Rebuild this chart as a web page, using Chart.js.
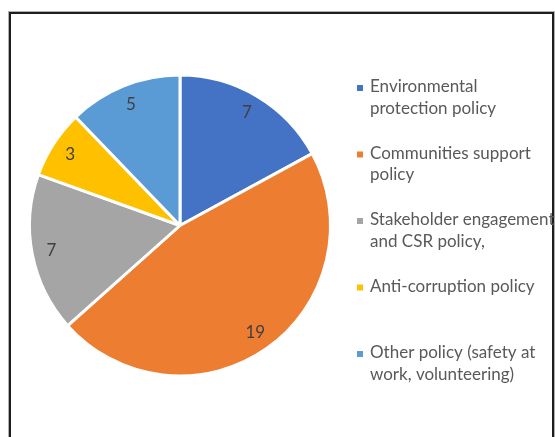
<!DOCTYPE html>
<html>
<head>
<meta charset="utf-8">
<script src="https://cdn.jsdelivr.net/npm/chart.js@4/dist/chart.umd.min.js"></script>
<style>
  html, body { margin: 0; padding: 0; background: #fff; }
  #wrap { position: relative; width: 555px; height: 437px; overflow: hidden; }
  #frame { position: absolute; left: 9px; top: 12px; width: 545px; height: 520px;
           box-sizing: border-box; border: 2px solid #1e1e1e; box-shadow: 0 0 0 1px #b0b0b0; }
  canvas { position: absolute; left: 0; top: 0; }
</style>
</head>
<body>
<div id="wrap">
  <div id="frame"></div>
  <canvas id="c" width="555" height="437"></canvas>
</div>
<script>
const categories = [
  ['Environmental', 'protection policy'],
  ['Communities support', 'policy'],
  ['Stakeholder engagement', 'and CSR policy,'],
  ['Anti-corruption policy'],
  ['Other policy (safety at', 'work, volunteering)']
];
const values = [7, 19, 7, 3, 5];
const colors = ['#4472C4', '#ED7D31', '#A5A5A5', '#FFC000', '#5B9BD5'];

const FONT = 'Lato, "Open Sans", "Liberation Sans", sans-serif';

const sliceLabels = {
  id: 'sliceLabels',
  afterDatasetsDraw(chart) {
    const ctx = chart.ctx;
    const meta = chart.getDatasetMeta(0);
    ctx.save();
    ctx.font = '17px ' + FONT;
    ctx.fillStyle = '#404040';
    ctx.textAlign = 'center';
    ctx.textBaseline = 'middle';
    meta.data.forEach((arc, i) => {
      const p = arc.getProps(['x', 'y', 'startAngle', 'endAngle', 'outerRadius']);
      const mid = (p.startAngle + p.endAngle) / 2;
      const r = p.outerRadius * 0.87;
      ctx.fillText(String(chart.data.datasets[0].data[i]), p.x + Math.cos(mid) * r, p.y + Math.sin(mid) * r);
    });
    ctx.restore();
  }
};

const sideLegend = {
  id: 'sideLegend',
  afterDraw(chart) {
    const ctx = chart.ctx;
    const ds = chart.data.datasets[0];
    const boxX = 357, textX = 370, top = 87, step = 66.5, lineH = 21.5, box = 6;
    ctx.save();
    ctx.font = '17px ' + FONT;
    ctx.textAlign = 'left';
    ctx.textBaseline = 'middle';
    chart.data.labels.forEach((lab, i) => {
      const y = top + i * step;
      ctx.fillStyle = ds.backgroundColor[i];
      ctx.fillRect(boxX, y - box / 2 + 1, box, box);
      ctx.fillStyle = '#595959';
      const lines = Array.isArray(lab) ? lab : [lab];
      lines.forEach((t, j) => ctx.fillText(t, textX, y + j * lineH));
    });
    ctx.restore();
  }
};

new Chart(document.getElementById('c'), {
  type: 'pie',
  data: {
    labels: categories,
    datasets: [{
      data: values,
      backgroundColor: colors,
      borderColor: '#ffffff',
      borderWidth: 3
    }]
  },
  options: {
    responsive: false,
    animation: false,
    layout: { padding: { left: 28, top: 73.5, right: 223, bottom: 59.5 } },
    plugins: {
      legend: { display: false },
      tooltip: { enabled: false }
    }
  },
  plugins: [sliceLabels, sideLegend]
});
</script>
</body>
</html>
